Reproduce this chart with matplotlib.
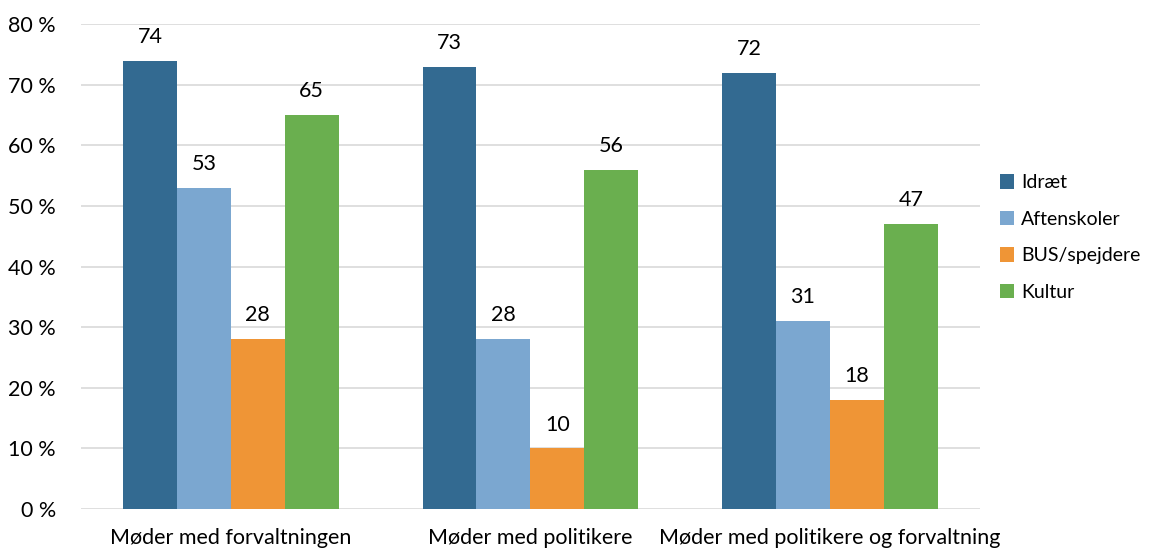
import matplotlib.pyplot as plt
import numpy as np

plt.rcParams['font.family'] = ['Lato', 'DejaVu Sans']

categories = ['Møder med forvaltningen', 'Møder med politikere', 'Møder med politikere og forvaltning']
series = ['Idræt', 'Aftenskoler', 'BUS/spejdere', 'Kultur']
idraet = [74, 73, 72]
aftenskoler = [53, 28, 31]
bus = [28, 10, 18]
kultur = [65, 56, 47]
values = [idraet, aftenskoler, bus, kultur]
colors = ['#336A91', '#7BA7D0', '#EF9536', '#6AAF4F']
yticks = [0, 10, 20, 30, 40, 50, 60, 70, 80]

fig = plt.figure(figsize=(11.58, 5.5), dpi=100)
ax = fig.add_axes([0.07, 0.0745, 0.776, 0.8815])

fs = 15.5
x = np.arange(len(categories))
w = 0.18
for i, (name, vals, c) in enumerate(zip(series, values, colors)):
    pos = x + (i - 1.5) * w
    bars = ax.bar(pos, vals, w, color=c, label=name, zorder=3)
    for b, v in zip(bars, vals):
        ax.annotate(str(v), (b.get_x() + b.get_width() / 2, v), xytext=(0, 10),
                    textcoords='offset points', ha='center', va='bottom', fontsize=fs)

ax.set_xlim(-0.5, 2.5)
ax.set_ylim(0, 80)
ax.set_yticks(yticks)
ax.set_yticklabels([f'{t} %' for t in yticks], fontsize=fs)
ax.set_xticks(x)
ax.set_xticklabels(categories, fontsize=fs)
ax.tick_params(axis='both', length=0)
ax.tick_params(axis='y', pad=18)
ax.tick_params(axis='x', pad=14)
ax.yaxis.grid(True, color='#D9D9D9', linewidth=1.2, zorder=0)
for s in ax.spines.values():
    s.set_visible(False)

ax.legend(loc='center left', bbox_to_anchor=(1.003, 0.56), frameon=False, fontsize=14,
          handlelength=0.75, handleheight=0.75, handletextpad=0.35, labelspacing=1.0)

fig.savefig('out.png', dpi=100)
